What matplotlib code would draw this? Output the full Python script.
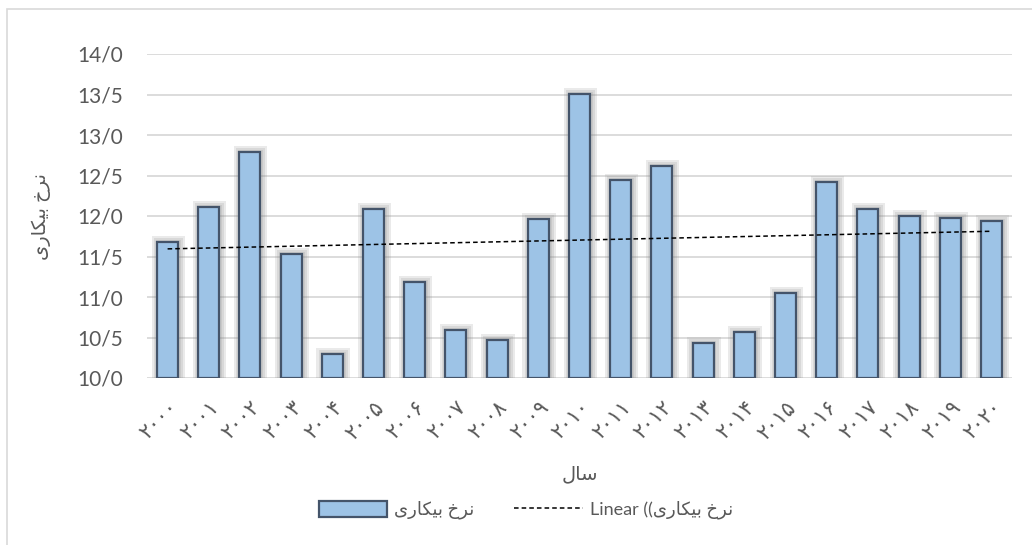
import numpy as np
import matplotlib.pyplot as plt
from matplotlib.patches import Rectangle

# unemployment rate by year
years = list(range(2000, 2021))
rate = [11.68, 12.11, 12.79, 11.53, 10.30, 12.09, 11.19, 10.59, 10.47, 11.96,
        13.51, 12.44, 12.62, 10.43, 10.57, 11.05, 12.42, 12.09, 12.00, 11.98, 11.94]
y_ticks = [10.0, 10.5, 11.0, 11.5, 12.0, 12.5, 13.0, 13.5, 14.0]

# Persian strings, already shaped (presentation forms, visual order)
rate_label = "\uFBFC\uFEAD\uFE8E\uFB91\uFBFF\uFE91 \uFEA5\uFEAE\uFEE7"   # نرخ بیکاری
year_label = "\uFEDD\uFE8E\uFEB3"                                      # سال
trend_label = "Linear ((" + rate_label


def fa_digits(n):
    return "".join(chr(0x06F0 + int(d)) for d in str(n))


plt.rcParams['font.family'] = ['Lato', 'DejaVu Sans']
txt = '#595959'
base = 10.0

fig = plt.figure(figsize=(10.32, 5.45), dpi=100)
ax = fig.add_axes([147 / 1032, 1 - 378 / 545, 865 / 1032, 324 / 545])

x = np.arange(len(years))
h = np.array(rate) - base
bw = 0.51

# soft glow behind the bars
for k in (3, 2, 1):
    ax.bar(x + 0.02, h + 0.025 * k, bottom=base, width=bw + 0.1 * k,
           color='#7f7f7f', alpha=0.16, linewidth=0, zorder=1)

bars = ax.bar(x, h, bottom=base, width=bw, color='#9DC3E6', edgecolor='#44546A',
              linewidth=1.6, zorder=3)

coef = np.polyfit(x, rate, 1)
trend, = ax.plot(x, np.polyval(coef, x), color='black', linestyle=(0, (3, 2)),
                 linewidth=1.1, zorder=4)

ax.set_xlim(-0.5, len(years) - 0.5)
ax.set_ylim(y_ticks[0], y_ticks[-1])
ax.set_yticks(y_ticks)
ax.set_yticklabels([f"{v:.1f}".replace('.', '/') for v in y_ticks])
ax.set_xticks(x)
ax.set_xticklabels([fa_digits(y) for y in years], rotation=45, ha='right',
                   rotation_mode='anchor')
ax.yaxis.grid(True, color='#D9D9D9', linewidth=1.3, zorder=0)
ax.set_axisbelow(True)
for s in ax.spines.values():
    s.set_visible(False)
ax.tick_params(axis='y', length=0, pad=17, labelsize=15, labelcolor=txt)
ax.tick_params(axis='x', length=0, pad=14, labelsize=15, labelcolor=txt)

ax.set_ylabel(rate_label, fontsize=14, color=txt, labelpad=19)
ax.set_xlabel(year_label, fontsize=14, color=txt, labelpad=16)

fig.legend([bars, trend], [rate_label, trend_label], loc='center',
           bbox_to_anchor=(526 / 1032, 1 - 510 / 545), ncol=2,
           frameon=False, fontsize=13, labelcolor=txt, handlelength=3.8,
           handleheight=1.0, handletextpad=0.4, columnspacing=2.2)

fig.patches.append(Rectangle((7 / 1032, -0.1), 1.1, 1.1 - 9 / 545,
                             transform=fig.transFigure, fill=False,
                             edgecolor='#D9D9D9', linewidth=1.2))

fig.savefig('out.png', dpi=100, facecolor='white')
